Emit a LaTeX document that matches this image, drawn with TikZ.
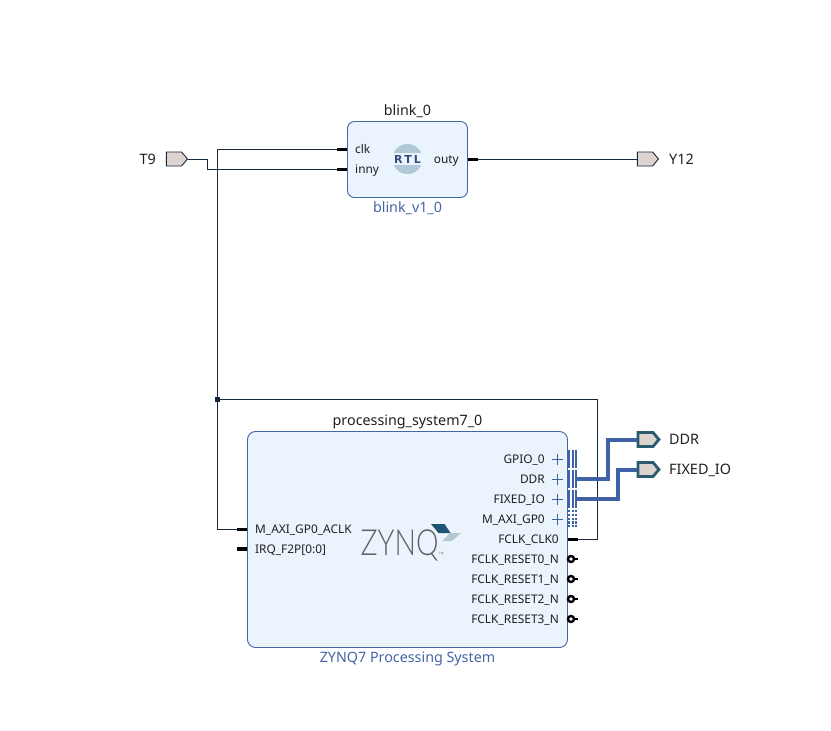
\documentclass[tikz,border=0pt]{standalone}
\usepackage{fontspec}
\setmainfont{Noto Sans}
\newfontfamily\logofont{Lato Light}
\newfontfamily\badgefont{DejaVu Sans}
\usetikzlibrary{shapes.symbols}
\definecolor{wirecol}{HTML}{16263C}
\definecolor{buscol}{HTML}{3F62A6}
\definecolor{boxfill}{HTML}{EBF3FD}
\definecolor{boxline}{HTML}{4565A5}
\definecolor{portfill}{HTML}{DDD4CF}
\definecolor{ifaceline}{HTML}{2A5A70}
\definecolor{rtlcol}{HTML}{AFC9D6}
\definecolor{rtltext}{HTML}{2F4F7F}
\definecolor{logogrey}{HTML}{606265}
\definecolor{logodark}{HTML}{1F5573}
\definecolor{logolight}{HTML}{B4C6CF}
\tikzset{
  block/.style={draw=boxline,fill=boxfill,line width=0.9pt,inner sep=0pt},
  title/.style={font=\fontsize{14.3}{16}\selectfont,text=black!88,inner sep=0pt,anchor=base},
  subtitle/.style={font=\fontsize{14.3}{16}\selectfont,text=boxline,inner sep=0pt,anchor=base},
  pinlabel/.style={font=\fontsize{11.9}{13}\selectfont,text=black!88,inner sep=0pt},
  extlabel/.style={font=\fontsize{14.4}{16}\selectfont,text=black!88,inner sep=0pt},
  extport/.style={shape=signal,signal to=east,signal pointer angle=100,draw=wirecol,fill=portfill,
    line width=0.9pt,minimum width=21pt,minimum height=14pt,inner sep=0pt},
  ifaceport/.style={extport,draw=ifaceline,line width=2.8pt,minimum width=21pt,minimum height=14pt},
  wire/.style={draw=wirecol,line width=0.9pt},
  stub/.style={draw=black,line width=3pt},
  fatstub/.style={draw=black,line width=4.5pt},
  rststub/.style={draw=black,line width=2.5pt},
  buswire/.style={draw=buscol,line width=4pt},
  stripes/.style={draw=buscol,line width=2pt},
  dotstripes/.style={stripes,dash pattern=on 2.2pt off 1.6pt},
  plusmark/.style={draw=buscol,line width=0.9pt},
  bubble/.style={circle,draw=black,fill=white,line width=2.4pt,minimum size=6pt,inner sep=0pt},
  joint/.style={rectangle,fill=wirecol,minimum size=5pt,inner sep=0pt},
  rtlbadge/.style={circle,fill=rtlcol,minimum size=30pt,inner sep=0pt},
  rtlband/.style={fill=boxfill,minimum width=32pt,minimum height=12pt,inner sep=0pt},
  rtlword/.style={font=\fontsize{11}{13}\selectfont\badgefont\bfseries,text=rtltext,inner sep=0pt},
  logoword/.style={font=\fontsize{36}{38}\selectfont\logofont,text=logogrey,inner sep=0pt,anchor=base west},
  logomark/.style={font=\fontsize{3}{4}\selectfont,text=logogrey,inner sep=0pt}
}
\begin{document}
\begin{tikzpicture}[x=1pt,y=-1pt]
      \useasboundingbox (0,0) rectangle (831,731);
      \node[block,rounded corners=7pt,minimum width=120pt,minimum height=76pt] (blink box) at (407.5,159.5) {};
      \node[block,rounded corners=8pt,minimum width=320pt,minimum height=216pt] (ps box) at (407.5,539.5) {};
      \node[title] (blink title) at (407.5,115) {blink\_0};
      \node[subtitle] (blink sub) at (407.5,212) {blink\_v1\_0};
      \node[title] (ps title) at (407.5,425) {processing\_system7\_0};
      \node[subtitle] (ps sub) at (407.5,662) {ZYNQ7 Processing System};

      \node[extport] (T9) at (174,159) {};
      \node[extport] (Y12) at (645,159) {};
      \node[ifaceport] (DDR) at (645.5,439.5) {};
      \node[ifaceport] (FIXED) at (645.5,469.5) {};
      \node[extlabel,anchor=base east] (T9 text) at (156,164) {T9};
      \node[extlabel,anchor=base west] (Y12 text) at (669,164) {Y12};
      \node[extlabel,anchor=base west] (DDR text) at (669,444) {DDR};
      \node[extlabel,anchor=base west] (FIXED text) at (669,474) {FIXED\_IO};

      \node[pinlabel,anchor=base west] (clk text) at (355,153) {clk};
      \node[pinlabel,anchor=base west] (inny text) at (355,173) {inny};
      \node[pinlabel,anchor=base east] (outy text) at (459,163) {outy};
      \node[pinlabel,anchor=base west] (aclk text) at (255,533) {M\_AXI\_GP0\_ACLK};
      \node[pinlabel,anchor=base west] (irq text) at (255,553) {IRQ\_F2P[0:0]};
      \node[pinlabel,anchor=base east] (gpio text) at (545,463) {GPIO\_0};
      \node[pinlabel,anchor=base east] (ddr text) at (545,483) {DDR};
      \node[pinlabel,anchor=base east] (fixed text) at (545,503) {FIXED\_IO};
      \node[pinlabel,anchor=base east] (gp0 text) at (545,523) {M\_AXI\_GP0};
      \node[pinlabel,anchor=base east] (fclk text) at (559,543) {FCLK\_CLK0};
      \node[pinlabel,anchor=base east] (rst0 text) at (559,563) {FCLK\_RESET0\_N};
      \node[pinlabel,anchor=base east] (rst1 text) at (559,583) {FCLK\_RESET1\_N};
      \node[pinlabel,anchor=base east] (rst2 text) at (559,603) {FCLK\_RESET2\_N};
      \node[pinlabel,anchor=base east] (rst3 text) at (559,623) {FCLK\_RESET3\_N};

      \node[rtlbadge] (rtl badge) at (407.5,159) {};
      \node[rtlband] (rtl band) at (407.5,159) {};
      \node[rtlword] (rtl word) at (407.5,159) {R\,T\,L};

      \node[logoword] (zynq word) at (360.5,555) {\scalebox{0.79}[1]{ZYNQ}};
      \node[logomark,anchor=west] (zynq mark) at (439,553.5) {TM};
      \fill [logodark] (431,524) -- (444.5,524) -- (450.5,533) -- (438.5,533) -- cycle;
      \fill [logolight] (450,533) -- (461,533) -- (452,541) -- (442.5,541) -- cycle;

      \coordinate (clk pin) at (337,149);
      \coordinate (clk edge) at (347,149);
      \coordinate (inny pin) at (337,169);
      \coordinate (inny edge) at (347,169);
      \coordinate (outy pin) at (478,159);
      \coordinate (outy edge) at (468,159);
      \coordinate (aclk pin) at (237,529);
      \coordinate (aclk edge) at (247,529);
      \coordinate (irq pin) at (237,549);
      \coordinate (irq edge) at (247,549);
      \coordinate (fclk pin) at (578,539);
      \coordinate (fclk edge) at (568,539);
      \coordinate (ddr pin) at (577,479);
      \coordinate (fixed pin) at (577,499);
      \coordinate (T9 bend a) at (207,159);
      \coordinate (T9 bend b) at (207,169);
      \coordinate (clk bend) at (217,149);
      \coordinate (aclk bend) at (217,529);
      \coordinate (fclk bend a) at (597.5,539);
      \coordinate (fclk bend b) at (597.5,399);
      \node[joint] (clk joint) at (217,399) {};
      \coordinate (ddr bend a) at (607.5,479);
      \coordinate (ddr bend b) at (607.5,439.5);
      \coordinate (fixed bend a) at (617.5,499);
      \coordinate (fixed bend b) at (617.5,469.5);

      \draw [wire] (T9.east) -- (T9 bend a) -- (T9 bend b) -- (inny pin);
      \draw [wire] (clk pin) -- (clk bend) -- (aclk bend) -- (aclk pin);
      \draw [wire] (fclk pin) -- (fclk bend a) -- (fclk bend b) -- (clk joint);
      \draw [wire] (outy pin) -- (Y12.west);
      \draw [buswire] (ddr pin) -- (ddr bend a) -- (ddr bend b) -- (DDR.west);
      \draw [buswire] (fixed pin) -- (fixed bend a) -- (fixed bend b) -- (FIXED.west);

      \draw [stub] (clk pin) -- (clk edge);
      \draw [stub] (inny pin) -- (inny edge);
      \draw [stub] (outy pin) -- (outy edge);
      \draw [stub] (aclk pin) -- (aclk edge);
      \draw [fatstub] (irq pin) -- (irq edge);
      \draw [stub] (fclk pin) -- (fclk edge);

      \node[bubble] (rst0 bubble) at (571,559) {};
      \node[bubble] (rst1 bubble) at (571,579) {};
      \node[bubble] (rst2 bubble) at (571,599) {};
      \node[bubble] (rst3 bubble) at (571,619) {};
      \draw [rststub] (rst0 bubble.east) -- ++(3,0);
      \draw [rststub] (rst1 bubble.east) -- ++(3,0);
      \draw [rststub] (rst2 bubble.east) -- ++(3,0);
      \draw [rststub] (rst3 bubble.east) -- ++(3,0);

      \draw [stripes] (569,450) -- (569,468) (572.5,450) -- (572.5,468) (576,450) -- (576,468);
      \draw [stripes] (569,470) -- (569,488) (572.5,470) -- (572.5,488) (576,470) -- (576,488);
      \draw [stripes] (569,490) -- (569,508) (572.5,490) -- (572.5,508) (576,490) -- (576,508);
      \draw [dotstripes] (569,510) -- (569,528) (572.5,510) -- (572.5,528) (576,510) -- (576,528);
      \draw [plusmark] (552,459) -- (563,459) (557.5,453.5) -- (557.5,464.5);
      \draw [plusmark] (552,479) -- (563,479) (557.5,473.5) -- (557.5,484.5);
      \draw [plusmark] (552,499) -- (563,499) (557.5,493.5) -- (557.5,504.5);
      \draw [plusmark] (552,519) -- (563,519) (557.5,513.5) -- (557.5,524.5);
\end{tikzpicture}
\end{document}
